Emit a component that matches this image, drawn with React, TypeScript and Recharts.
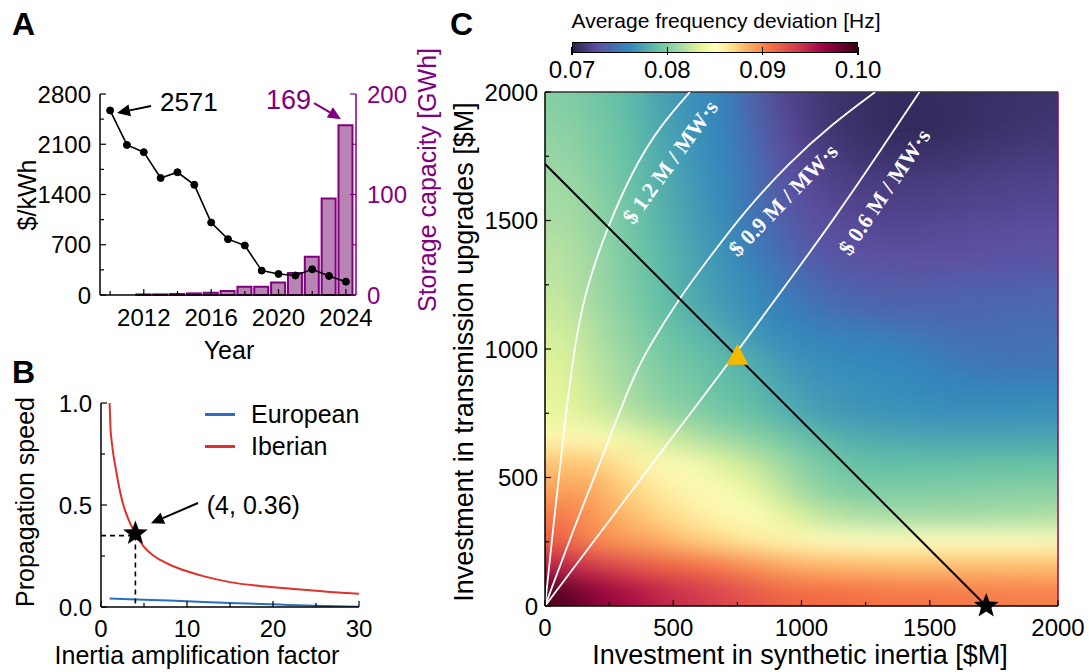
import React from 'react';
import {
  ComposedChart, Line, Bar, Scatter, XAxis, YAxis, ReferenceLine, ReferenceDot, Legend
} from 'recharts';

// ---- panel A: battery price and storage capacity
const years = [2010, 2011, 2012, 2013, 2014, 2015, 2016, 2017, 2018, 2019, 2020, 2021, 2022, 2023, 2024];
const batteryPrice = [2571, 2090, 1990, 1630, 1710, 1535, 1010, 778, 690, 340, 293, 272, 358, 265, 186];
const storageGwh = [0, 0, 0.6, 0.6, 1, 1.6, 2.2, 4, 8.3, 8.3, 12.5, 22, 38, 96, 169];

// ---- panel B: propagation speed vs inertia amplification
const factorIberian = [1, 1.1, 1.25, 1.5, 1.75, 2, 2.5, 3, 3.5, 4, 5, 6, 7, 8, 10, 12, 15, 18, 20, 22, 25, 28, 30];
const speedIberian = [1.0, 0.88, 0.81, 0.73, 0.67, 0.61, 0.515, 0.45, 0.40, 0.36, 0.295, 0.255, 0.228, 0.207, 0.175, 0.15, 0.122, 0.105, 0.097, 0.09, 0.08, 0.07, 0.065];
const factorEuropean = [1, 5, 10, 15, 20, 25, 30];
const speedEuropean = [0.042, 0.036, 0.028, 0.02, 0.013, 0.006, 0.001];

// ---- panel C: frequency deviation map [Hz]
const investInertia = [62.5, 187.5, 312.5, 437.5, 562.5, 687.5, 812.5, 937.5, 1062.5, 1187.5, 1312.5, 1437.5, 1562.5, 1687.5, 1812.5, 1937.5];
const investTransmission = [1950, 1850, 1750, 1650, 1550, 1450, 1350, 1250, 1150, 1050, 950, 850, 750, 650, 550, 450, 350, 250, 150, 50];
// one row per investTransmission value, one column per investInertia value
const deviation = [
  [0.0802, 0.0795, 0.0788, 0.0775, 0.0765, 0.0758, 0.0738, 0.0720, 0.0712, 0.0708, 0.0705, 0.0704, 0.0705, 0.0706, 0.0707, 0.0709],
  [0.0805, 0.0798, 0.0790, 0.0777, 0.0767, 0.0759, 0.0741, 0.0722, 0.0713, 0.0708, 0.0705, 0.0703, 0.0705, 0.0707, 0.0709, 0.0711],
  [0.0808, 0.0800, 0.0791, 0.0779, 0.0768, 0.0760, 0.0744, 0.0725, 0.0716, 0.0711, 0.0709, 0.0708, 0.0709, 0.0711, 0.0713, 0.0714],
  [0.0811, 0.0803, 0.0793, 0.0781, 0.0770, 0.0761, 0.0746, 0.0728, 0.0720, 0.0716, 0.0714, 0.0714, 0.0715, 0.0716, 0.0717, 0.0718],
  [0.0814, 0.0806, 0.0795, 0.0783, 0.0772, 0.0762, 0.0748, 0.0731, 0.0723, 0.0719, 0.0717, 0.0717, 0.0718, 0.0719, 0.0720, 0.0721],
  [0.0817, 0.0808, 0.0797, 0.0785, 0.0774, 0.0764, 0.0751, 0.0736, 0.0727, 0.0723, 0.0721, 0.0721, 0.0722, 0.0723, 0.0724, 0.0725],
  [0.0820, 0.0811, 0.0798, 0.0787, 0.0776, 0.0766, 0.0755, 0.0742, 0.0732, 0.0728, 0.0726, 0.0725, 0.0725, 0.0726, 0.0727, 0.0728],
  [0.0822, 0.0811, 0.0800, 0.0789, 0.0777, 0.0768, 0.0761, 0.0750, 0.0740, 0.0735, 0.0733, 0.0733, 0.0734, 0.0735, 0.0735, 0.0736],
  [0.0826, 0.0814, 0.0802, 0.0791, 0.0781, 0.0771, 0.0763, 0.0755, 0.0748, 0.0743, 0.0740, 0.0739, 0.0739, 0.0740, 0.0741, 0.0742],
  [0.0830, 0.0818, 0.0806, 0.0795, 0.0787, 0.0779, 0.0768, 0.0762, 0.0758, 0.0756, 0.0754, 0.0750, 0.0746, 0.0744, 0.0744, 0.0745],
  [0.0833, 0.0821, 0.0810, 0.0799, 0.0792, 0.0786, 0.0778, 0.0768, 0.0763, 0.0761, 0.0760, 0.0758, 0.0753, 0.0749, 0.0748, 0.0748],
  [0.0835, 0.0824, 0.0814, 0.0803, 0.0796, 0.0790, 0.0784, 0.0774, 0.0768, 0.0765, 0.0763, 0.0761, 0.0759, 0.0758, 0.0757, 0.0757],
  [0.0838, 0.0830, 0.0820, 0.0810, 0.0803, 0.0795, 0.0790, 0.0780, 0.0772, 0.0768, 0.0766, 0.0765, 0.0764, 0.0764, 0.0764, 0.0765],
  [0.0855, 0.0853, 0.0842, 0.0830, 0.0821, 0.0812, 0.0804, 0.0795, 0.0786, 0.0780, 0.0777, 0.0776, 0.0775, 0.0775, 0.0775, 0.0775],
  [0.0878, 0.0876, 0.0864, 0.0853, 0.0845, 0.0834, 0.0824, 0.0810, 0.0798, 0.0791, 0.0789, 0.0789, 0.0789, 0.0790, 0.0790, 0.0790],
  [0.0890, 0.0888, 0.0874, 0.0862, 0.0855, 0.0846, 0.0836, 0.0820, 0.0805, 0.0799, 0.0798, 0.0799, 0.0800, 0.0801, 0.0802, 0.0803],
  [0.0906, 0.0894, 0.0882, 0.0872, 0.0862, 0.0855, 0.0848, 0.0836, 0.0824, 0.0817, 0.0814, 0.0813, 0.0813, 0.0813, 0.0814, 0.0815],
  [0.0917, 0.0900, 0.0893, 0.0887, 0.0877, 0.0870, 0.0862, 0.0856, 0.0851, 0.0850, 0.0850, 0.0850, 0.0850, 0.0850, 0.0850, 0.0849],
  [0.0950, 0.0938, 0.0926, 0.0918, 0.0912, 0.0905, 0.0896, 0.0888, 0.0884, 0.0882, 0.0881, 0.0880, 0.0880, 0.0880, 0.0880, 0.0880],
  [0.0992, 0.0973, 0.0961, 0.0949, 0.0940, 0.0932, 0.0922, 0.0915, 0.0912, 0.0910, 0.0908, 0.0907, 0.0906, 0.0905, 0.0904, 0.0903],
];

// iso-cost curves and budget line
const iso12X = [0, 31, 74, 121, 168, 234, 343, 450, 565];
const iso12Y = [0, 296, 685, 1060, 1257, 1450, 1700, 1870, 2000];
const iso09X = [0, 110, 214, 338, 397, 526, 643, 773, 950, 1124, 1287];
const iso09Y = [0, 296, 555, 879, 996, 1202, 1358, 1530, 1724, 1879, 2000];
const iso06X = [0, 185, 370, 560, 750, 940, 1130, 1300, 1460];
const iso06Y = [0, 245, 490, 740, 990, 1250, 1510, 1760, 2000];
const budget = 1720;

const cmapLevels = [0.07, 0.0725, 0.076, 0.079, 0.0815, 0.0835, 0.085, 0.0868, 0.0885, 0.091, 0.0935, 0.0965, 0.1];
const cmapColors = ['#2b2450', '#5e4fa2', '#3288bd', '#66c2a5', '#abdda4', '#e6f598', '#ffffbf', '#fee08b', '#fdae61', '#f46d43', '#d53e4f', '#9e0142', '#3a0015'];
const cbarTicks = [0.07, 0.08, 0.09, 0.1];

const PURPLE = '#800080';
const FONT = '"Liberation Sans", Arial, sans-serif';
const SERIF = '"Liberation Serif", "DejaVu Serif", serif';

const panelA = years.map((year, i) => ({ year, price: batteryPrice[i], gwh: storageGwh[i] }));
const iberian = factorIberian.map((x, i) => ({ x, y: speedIberian[i] }));
const european = factorEuropean.map((x, i) => ({ x, y: speedEuropean[i] }));
const iso12 = iso12X.map((x, i) => ({ x, y: iso12Y[i] }));
const iso09 = iso09X.map((x, i) => ({ x, y: iso09Y[i] }));
const iso06 = iso06X.map((x, i) => ({ x, y: iso06Y[i] }));
const heatCells = investTransmission.flatMap((y, r) => investInertia.map((x, c) => ({ x, y, v: deviation[r][c] })));

const hex = (h: string) => [1, 3, 5].map((k) => parseInt(h.slice(k, k + 2), 16));
function freqColor(v: number) {
  if (v <= cmapLevels[0]) return cmapColors[0];
  for (let i = 1; i < cmapLevels.length; i++) {
    if (v <= cmapLevels[i]) {
      const t = (v - cmapLevels[i - 1]) / (cmapLevels[i] - cmapLevels[i - 1]);
      const a = hex(cmapColors[i - 1]);
      const b = hex(cmapColors[i]);
      const c = a.map((ch, k) => Math.round(ch + (b[k] - ch) * t));
      return `rgb(${c[0]},${c[1]},${c[2]})`;
    }
  }
  return cmapColors[cmapColors.length - 1];
}

// C plot area size (from the chart box and margins below)
const C_W = 513;
const C_H = 514;
const cellW = C_W / investInertia.length + 0.8;
const cellH = C_H / investTransmission.length + 0.8;
const renderHeatCell = (p: any) => (
  <rect x={p.cx - cellW / 2} y={p.cy - cellH / 2} width={cellW} height={cellH} fill={freqColor(p.payload.v)} />
);

// ticks drawn inward, labels only on majors
const makeTick = (side: string, majors: number[], fmt: (v: number) => string, gap: number, color = '#000', size = 24) => (p: any) => {
  const v = p.payload.value;
  const major = majors.indexOf(v) !== -1;
  const len = major ? 6 : 4;
  if (side === 'bottom') {
    const ay = p.y - gap;
    return (
      <g>
        <line x1={p.x} x2={p.x} y1={ay} y2={ay - len} stroke={color} strokeWidth={1.2} />
        {major && <text x={p.x} y={p.y} dy="0.75em" textAnchor="middle" fill={color} fontSize={size}>{fmt(v)}</text>}
      </g>
    );
  }
  const dir = side === 'left' ? 1 : -1;
  const ax = p.x + dir * gap;
  return (
    <g>
      <line x1={ax} x2={ax + dir * len} y1={p.y} y2={p.y} stroke={color} strokeWidth={1.2} />
      {major && <text x={p.x} y={p.y} dy="0.36em" textAnchor={side === 'left' ? 'end' : 'start'} fill={color} fontSize={size}>{fmt(v)}</text>}
    </g>
  );
};

const arrowShape = (color: string) => (p: any) => {
  const { x1, y1, x2, y2 } = p;
  const ang = Math.atan2(y2 - y1, x2 - x1);
  const bx = x2 - 13 * Math.cos(ang);
  const by = y2 - 13 * Math.sin(ang);
  const nx = -Math.sin(ang) * 6;
  const ny = Math.cos(ang) * 6;
  return (
    <g>
      <line x1={x1} y1={y1} x2={bx} y2={by} stroke={color} strokeWidth={2} />
      <polygon points={`${x2},${y2} ${bx + nx},${by + ny} ${bx - nx},${by - ny}`} fill={color} />
    </g>
  );
};

const textShape = (txt: string, opts: any) => (p: any) => (
  <text
    x={p.cx}
    y={p.cy}
    dy="0.35em"
    textAnchor={opts.anchor || 'start'}
    fill={opts.color || '#000'}
    fontSize={opts.size || 26}
    fontFamily={opts.family}
    fontWeight={opts.weight}
    transform={opts.angle ? `rotate(${opts.angle} ${p.cx} ${p.cy})` : undefined}
  >
    {txt}
  </text>
);

const starPoints = (cx: number, cy: number, R: number) => {
  const pts: string[] = [];
  for (let i = 0; i < 10; i++) {
    const a = -Math.PI / 2 + (i * Math.PI) / 5;
    const rad = i % 2 === 0 ? R : R * 0.42;
    pts.push(`${cx + rad * Math.cos(a)},${cy + rad * Math.sin(a)}`);
  }
  return pts.join(' ');
};
const starShape = (R: number) => (p: any) => <polygon points={starPoints(p.cx, p.cy, R)} fill="#000" />;
const triangleShape = (p: any) => (
  <polygon points={`${p.cx},${p.cy - 13} ${p.cx - 11},${p.cy + 8} ${p.cx + 11},${p.cy + 8}`} fill="#f5b700" />
);

const Title = ({ x, y, text, size, color = '#000', rotate = false }: any) => (
  <div
    style={{
      position: 'absolute', left: x, top: y, fontSize: size, color, whiteSpace: 'nowrap', lineHeight: 1,
      transform: `translate(-50%, -50%)${rotate ? ' rotate(-90deg)' : ''}`,
    }}
  >
    {text}
  </div>
);

const PanelLabel = ({ x, y, text }: any) => (
  <div style={{ position: 'absolute', left: x, top: y, fontSize: 32, fontWeight: 700, lineHeight: 1 }}>{text}</div>
);

const axisLine = { stroke: '#000', strokeWidth: 1.5 };
const isoLabel = (txt: string, angle: number) =>
  textShape(txt, { size: 22, anchor: 'middle', color: '#fff', angle, weight: 700, family: SERIF });

const App = () => {
  const cbarGradient = `linear-gradient(to right, ${cmapLevels
    .map((v, i) => `${cmapColors[i]} ${((v - 0.07) / 0.03) * 100}%`)
    .join(', ')})`;

  return (
    <div style={{ position: 'absolute', left: 0, top: 0, width: 1089, height: 672, background: '#fff', fontFamily: FONT, overflow: 'hidden' }}>
      <style>{'.recharts-scatter { filter: url(#heatBlur); }'}</style>
      <svg width={0} height={0} style={{ position: 'absolute' }}>
        <defs>
          <filter id="heatBlur" x="0" y="0" width="1" height="1" colorInterpolationFilters="sRGB">
            <feGaussianBlur stdDeviation="15 11" />
            <feComponentTransfer>
              <feFuncA type="table" tableValues="1 1" />
            </feComponentTransfer>
          </filter>
        </defs>
      </svg>

      {/* A */}
      <PanelLabel x={12} y={8} text="A" />
      <div style={{ position: 'absolute', left: 0, top: 0 }}>
        <ComposedChart width={450} height={370} data={panelA} margin={{ top: 94, right: 34, bottom: 35, left: 40 }}>
          <Bar yAxisId="gwh" dataKey="gwh" barSize={14} fill="#b784b4" stroke={PURPLE} strokeWidth={2} isAnimationActive={false} />
          <Line yAxisId="price" dataKey="price" type="linear" stroke="#000" strokeWidth={1.6}
            dot={{ r: 3.5, fill: '#000', stroke: '#000', strokeWidth: 1 }} isAnimationActive={false} />
          <XAxis dataKey="year" type="number" domain={[2009.4, 2024.6]} allowDataOverflow
            ticks={[2010, 2012, 2014, 2016, 2018, 2020, 2022, 2024]} interval={0}
            tickLine={false} tickSize={0} tickMargin={13} height={40} axisLine={axisLine}
            tick={makeTick('bottom', [2012, 2016, 2020, 2024], String, 13)} />
          <YAxis yAxisId="price" domain={[0, 2800]} width={60}
            ticks={[0, 350, 700, 1050, 1400, 1750, 2100, 2450, 2800]} interval={0}
            tickLine={false} tickSize={0} tickMargin={9} axisLine={axisLine}
            tick={makeTick('left', [0, 700, 1400, 2100, 2800], String, 9)} />
          <YAxis yAxisId="gwh" orientation="right" domain={[0, 200]} width={60}
            ticks={[0, 50, 100, 150, 200]} interval={0}
            tickLine={false} tickSize={0} tickMargin={11} axisLine={{ stroke: PURPLE, strokeWidth: 1.5 }}
            tick={makeTick('right', [0, 100, 200], String, 11, PURPLE)} />
          <ReferenceLine yAxisId="price" segment={[{ x: 2012.43, y: 2633 }, { x: 2010.41, y: 2535 }]}
            ifOverflow="visible" shape={arrowShape('#000')} />
          <ReferenceDot yAxisId="price" x={2012.96} y={2689} ifOverflow="visible" shape={textShape('2571', { size: 26 })} />
          <ReferenceLine yAxisId="gwh" segment={[{ x: 2022.11, y: 191 }, { x: 2023.71, y: 175 }]}
            ifOverflow="visible" shape={arrowShape(PURPLE)} />
          <ReferenceDot yAxisId="gwh" x={2021.93} y={194} ifOverflow="visible"
            shape={textShape('169', { size: 27, anchor: 'end', color: PURPLE })} />
        </ComposedChart>
      </div>
      <Title x={27} y={195} text="$/kWh" size={25} rotate />
      <Title x={427} y={180} text="Storage capacity [GWh]" size={25} color={PURPLE} rotate />
      <Title x={229} y={350} text="Year" size={25} />

      {/* B */}
      <PanelLabel x={12} y={356} text="B" />
      <div style={{ position: 'absolute', left: 0, top: 360 }}>
        <ComposedChart width={450} height={312} margin={{ top: 43, right: 91, bottom: 25, left: 41 }}>
          <Line data={european} dataKey="y" name="European" type="monotone" stroke="#2a6fbd" strokeWidth={2} dot={false} isAnimationActive={false} />
          <Line data={iberian} dataKey="y" name="Iberian" type="monotone" stroke="#e0302a" strokeWidth={2} dot={false} isAnimationActive={false} />
          <ReferenceLine segment={[{ x: 0, y: 0.35 }, { x: 4, y: 0.35 }]} stroke="#000" strokeWidth={1.6} strokeDasharray="5 4" />
          <ReferenceLine segment={[{ x: 4, y: 0.35 }, { x: 4, y: 0 }]} stroke="#000" strokeWidth={1.6} strokeDasharray="5 4" />
          <ReferenceDot x={4} y={0.36} ifOverflow="visible" shape={starShape(13)} />
          <ReferenceLine segment={[{ x: 11.28, y: 0.51 }, { x: 5.81, y: 0.41 }]} ifOverflow="visible" shape={arrowShape('#000')} />
          <ReferenceDot x={12.3} y={0.5} ifOverflow="visible" shape={textShape('(4, 0.36)', { size: 25 })} />
          <XAxis type="number" dataKey="x" domain={[0, 30]} allowDataOverflow
            ticks={[0, 5, 10, 15, 20, 25, 30]} interval={0}
            tickLine={false} tickSize={0} tickMargin={12} height={40} axisLine={axisLine}
            tick={makeTick('bottom', [0, 10, 20, 30], String, 12)} />
          <YAxis type="number" domain={[0, 1]} width={60} allowDataOverflow
            ticks={[0, 0.25, 0.5, 0.75, 1]} interval={0}
            tickLine={false} tickSize={0} tickMargin={9} axisLine={axisLine}
            tick={makeTick('left', [0, 0.5, 1], (v) => v.toFixed(1), 9)} />
          <Legend layout="vertical" align="center" verticalAlign="middle"
            wrapperStyle={{ left: 205, top: 38, width: 200, height: 70 }}
            content={(props: any) => (
              <div>
                {(props.payload || []).map((item: any) => (
                  <div key={item.value} style={{ display: 'flex', alignItems: 'center', height: 32 }}>
                    <span style={{ display: 'inline-block', width: 30, height: 3, background: item.color }} />
                    <span style={{ marginLeft: 16, fontSize: 25, lineHeight: 1 }}>{item.value}</span>
                  </div>
                ))}
              </div>
            )} />
        </ComposedChart>
      </div>
      <Title x={25} y={502} text="Propagation speed" size={25} rotate />
      <Title x={197} y={655} text="Inertia amplification factor" size={25} />

      {/* C */}
      <PanelLabel x={450} y={8} text="C" />
      <Title x={726} y={20} text="Average frequency deviation [Hz]" size={21} />
      <div style={{ position: 'absolute', left: 572, top: 42, width: 286, height: 11, background: cbarGradient, border: '1.5px solid #000', boxSizing: 'border-box' }} />
      {cbarTicks.map((v) => {
        const px = 572 + ((v - 0.07) / 0.03) * 286;
        return (
          <React.Fragment key={v}>
            <div style={{ position: 'absolute', left: px - 0.75, top: 47, width: 1.5, height: 8, background: '#000' }} />
            <Title x={px} y={70} text={v.toFixed(2)} size={24} />
          </React.Fragment>
        );
      })}
      <div style={{ position: 'absolute', left: 440, top: 0 }}>
        <ComposedChart width={649} height={672} margin={{ top: 92, right: 31, bottom: 26, left: 5 }}>
          <Scatter data={heatCells} shape={renderHeatCell} isAnimationActive={false} zIndex={-50} />
          <ReferenceLine y={2000} stroke="#333" strokeWidth={1.5} />
          <ReferenceLine x={2000} stroke="#9e0142" strokeWidth={1.5} />
          <Line data={iso12} dataKey="y" type="basis" stroke="#fff" strokeWidth={1.8} dot={false} isAnimationActive={false} />
          <Line data={iso09} dataKey="y" type="basis" stroke="#fff" strokeWidth={1.8} dot={false} isAnimationActive={false} />
          <Line data={iso06} dataKey="y" type="basis" stroke="#fff" strokeWidth={1.8} dot={false} isAnimationActive={false} />
          <ReferenceLine segment={[{ x: 0, y: budget }, { x: budget, y: 0 }]} stroke="#000" strokeWidth={2} />
          <ReferenceDot x={487} y={1728} ifOverflow="visible" shape={isoLabel('$ 1.2 M / MW·s', -54)} />
          <ReferenceDot x={928} y={1580} ifOverflow="visible" shape={isoLabel('$ 0.9 M / MW·s', -46)} />
          <ReferenceDot x={1322} y={1611} ifOverflow="visible" shape={isoLabel('$ 0.6 M / MW·s', -56)} />
          <ReferenceDot x={750} y={970} ifOverflow="visible" shape={triangleShape} />
          <ReferenceDot x={budget} y={0} ifOverflow="visible" shape={starShape(13)} />
          <XAxis type="number" dataKey="x" domain={[0, 2000]} allowDataOverflow
            ticks={[0, 250, 500, 750, 1000, 1250, 1500, 1750, 2000]} interval={0}
            tickLine={false} tickSize={0} tickMargin={12} height={40} axisLine={axisLine}
            tick={makeTick('bottom', [0, 500, 1000, 1500, 2000], String, 12)} />
          <YAxis type="number" dataKey="y" domain={[0, 2000]} width={100} allowDataOverflow
            ticks={[0, 250, 500, 750, 1000, 1250, 1500, 1750, 2000]} interval={0}
            tickLine={false} tickSize={0} tickMargin={7} axisLine={axisLine}
            tick={makeTick('left', [0, 500, 1000, 1500, 2000], String, 7)} />
        </ComposedChart>
      </div>
      <Title x={464} y={352} text="Investment in transmission upgrades [$M]" size={27} rotate />
      <Title x={800} y={655} text="Investment in synthetic inertia [$M]" size={27} />
    </div>
  );
};

export default App;
